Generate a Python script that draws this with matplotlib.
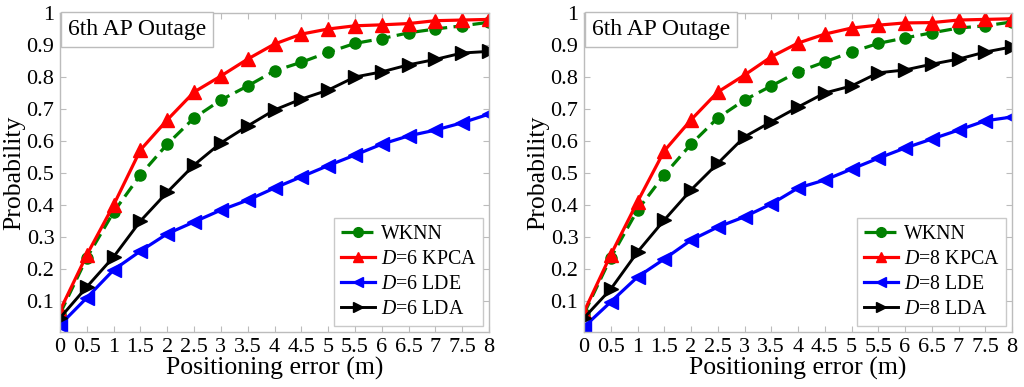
import matplotlib
matplotlib.use("Agg")
import matplotlib.pyplot as plt

x = [0, 0.5, 1, 1.5, 2, 2.5, 3, 3.5, 4, 4.5, 5, 5.5, 6, 6.5, 7, 7.5, 8]
xtick_labels = ["0", "0.5", "1", "1.5", "2", "2.5", "3", "3.5", "4", "4.5",
                "5", "5.5", "6", "6.5", "7", "7.5", "8"]
yticks = [0.1, 0.2, 0.3, 0.4, 0.5, 0.6, 0.7, 0.8, 0.9, 1.0]
ytick_labels = ["0.1", "0.2", "0.3", "0.4", "0.5", "0.6", "0.7", "0.8", "0.9", "1"]

# Left panel (D=6)
wknn_6 = [0.06, 0.235, 0.378, 0.494, 0.59, 0.672, 0.728, 0.772, 0.819, 0.846,
          0.877, 0.905, 0.92, 0.938, 0.95, 0.96, 0.971]
kpca_6 = [0.07, 0.244, 0.40, 0.572, 0.666, 0.753, 0.803, 0.856, 0.903, 0.934,
          0.95, 0.96, 0.963, 0.967, 0.976, 0.978, 0.98]
lde_6 = [0.025, 0.11, 0.197, 0.256, 0.31, 0.347, 0.384, 0.415, 0.453, 0.488,
         0.523, 0.556, 0.59, 0.616, 0.634, 0.657, 0.684]
lda_6 = [0.047, 0.144, 0.238, 0.35, 0.44, 0.525, 0.594, 0.647, 0.697, 0.731,
         0.759, 0.80, 0.816, 0.838, 0.855, 0.875, 0.88]

# Right panel (D=8)
wknn_8 = [0.06, 0.235, 0.384, 0.494, 0.59, 0.672, 0.728, 0.772, 0.816, 0.847,
          0.878, 0.905, 0.922, 0.938, 0.953, 0.96, 0.972]
kpca_8 = [0.066, 0.244, 0.41, 0.569, 0.666, 0.753, 0.806, 0.863, 0.906, 0.934,
          0.953, 0.962, 0.969, 0.97, 0.978, 0.98, 0.982]
lde_8 = [0.019, 0.097, 0.175, 0.231, 0.29, 0.331, 0.363, 0.403, 0.453, 0.478,
         0.512, 0.546, 0.578, 0.606, 0.634, 0.663, 0.675]
lda_8 = [0.047, 0.137, 0.253, 0.353, 0.447, 0.53, 0.613, 0.66, 0.706, 0.75,
         0.772, 0.813, 0.822, 0.84, 0.856, 0.878, 0.894]

panel_title = "6th AP Outage"
x_label = "Positioning error (m)"
y_label = "Probability"

plt.rcParams['font.family'] = ['Liberation Serif', 'DejaVu Serif']
plt.rcParams['mathtext.fontset'] = 'custom'
plt.rcParams['mathtext.it'] = 'Liberation Serif:italic'
plt.rcParams['mathtext.rm'] = 'Liberation Serif'

fig = plt.figure(figsize=(10.24, 3.87), dpi=100)
axL = fig.add_axes([60/1024, 1-332/387, 429/1024, 319/387])
axR = fig.add_axes([584/1024, 1-332/387, 428/1024, 319/387])

spine_col = '#bcbcbc'

def draw(ax, wknn, kpca, lde, lda, d):
    ax.plot(x, wknn, '--', color='#008000', lw=2.3, marker='o', ms=8,
            dashes=(4, 2), label='WKNN')
    ax.plot(x, kpca, '-', color='#ff0000', lw=2.3, marker='^', ms=10,
            label=f'$D$={d} KPCA')
    ax.plot(x, lde, '-', color='#0000ff', lw=2.3, marker='<', ms=10,
            label=f'$D$={d} LDE')
    ax.plot(x, lda, '-', color='black', lw=2.1, marker='>', ms=10,
            label=f'$D$={d} LDA')
    ax.set_xlim(0, 8)
    ax.set_ylim(0.003, 1)
    ax.set_xticks(x)
    ax.set_xticklabels(xtick_labels)
    ax.set_yticks(yticks)
    ax.set_yticklabels(ytick_labels)
    ax.tick_params(direction='in', top=True, right=True, length=4,
                   color=spine_col, labelsize=16, pad=4)
    for s in ax.spines.values():
        s.set_color(spine_col)
        s.set_linewidth(1.0)
    ax.set_xlabel(x_label, fontsize=18.5, labelpad=0)
    ax.set_ylabel(y_label, fontsize=18.5, labelpad=1)
    fs = 17
    pad = 0.3
    ax.annotate(panel_title, xy=(0, 1), xycoords='axes fraction',
                xytext=(pad * fs + 0.5, -pad * fs + 0.5), textcoords='offset points',
                fontsize=fs, ha='left', va='top', zorder=10,
                bbox=dict(boxstyle=f'square,pad={pad}', fc='white', ec=spine_col, lw=1.0))
    leg = ax.legend(loc='lower right', fontsize=14.3, frameon=True, fancybox=False,
                    edgecolor=spine_col, handlelength=1.7, handletextpad=0.3,
                    borderaxespad=0.3, labelspacing=0.3, borderpad=0.35)
    leg.get_frame().set_linewidth(1.0)
    for h in leg.legend_handles:
        h.set_markersize(7)

draw(axL, wknn_6, kpca_6, lde_6, lda_6, 6)
draw(axR, wknn_8, kpca_8, lde_8, lda_8, 8)

fig.savefig("out.png", dpi=100)
